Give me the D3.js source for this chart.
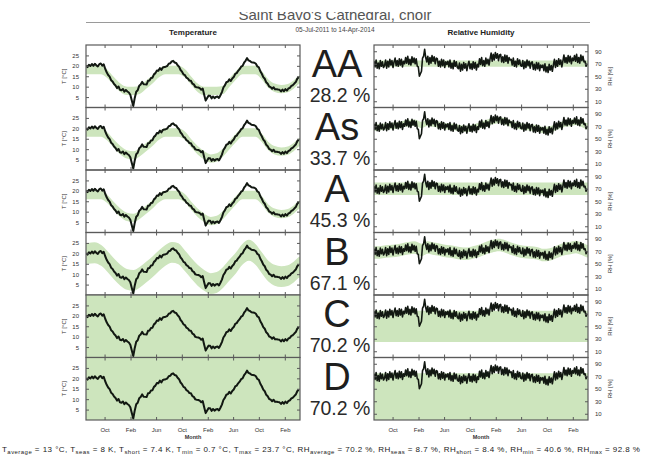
<!DOCTYPE html>
<html><head><meta charset="utf-8">
<script src="https://cdn.jsdelivr.net/npm/d3@7"></script>
<style>body{margin:0;background:#fff}svg{display:block}text{font-family:Arial,"Liberation Sans",sans-serif}</style>
</head><body><svg id="c" width="652" height="464"></svg>
<script>
// ---------- data ----------
const startDate = new Date(2011, 6, 5), endDate = new Date(2014, 3, 14);
const tempStepDays = 7;
const tempValues = [20.0,19.4,20.5,19.9,20.9,20.0,21.0,20.2,19.7,20.8,
 21.1,20.1,20.7,18.6,16.9,15.6,14.8,13.1,12.5,11.3,
 10.6,9.3,10.1,8.5,8.3,8.9,7.6,8.4,7.7,7.2,
 6.1,3.4,0.7,4.6,7.6,8.3,10.4,11.0,12.3,11.2,
 11.1,11.0,12.8,13.0,14.2,14.3,15.9,16.5,17.8,17.6,
 18.9,18.0,19.2,19.4,19.6,19.9,21.0,21.2,22.1,22.4,
 21.6,21.4,20.3,19.6,18.0,17.2,15.9,15.5,14.3,13.9,
 12.9,12.8,11.5,11.1,9.9,9.7,9.6,9.3,8.5,9.1,
 6.1,3.3,4.6,5.7,5.6,4.4,5.3,4.5,5.1,5.3,
 4.6,5.9,7.4,9.6,10.6,12.1,12.4,13.5,12.7,13.9,
 14.6,16.1,16.5,17.6,18.4,19.6,20.0,21.5,22.4,23.7,
 22.6,22.3,21.7,21.6,21.5,21.0,19.7,19.3,17.4,16.2,
 14.6,13.8,12.1,11.4,10.1,9.8,9.0,9.7,8.7,8.8,
 8.6,8.5,7.7,8.6,7.8,8.8,8.1,9.1,9.4,10.4,
 10.7,11.5,12.2,13.8,14.6];
const rhStepDays = 5;
const rhValues = [74,65,76,63,71,62,75,66,73,64,
 67,76,63,74,65,77,68,75,64,73,
 79,67,75,66,78,68,77,65,74,70,
 80,71,82,69,77,68,81,72,79,70,
 78,66,65,50,54,58,79,82,93,80,
 73,82,69,80,71,83,74,81,70,79,
 78,66,74,65,77,67,76,64,73,69,
 74,65,76,63,71,62,75,66,73,64,
 62,71,58,69,60,72,63,70,59,68,
 74,62,70,61,73,63,72,60,69,65,
 78,69,80,67,75,66,79,70,77,68,
 78,87,74,85,76,88,79,86,75,84,
 85,73,81,72,84,74,83,71,80,76,
 77,68,79,66,74,65,78,69,76,67,
 66,75,62,73,64,76,67,74,63,72,
 73,61,69,60,72,62,71,59,68,64,
 68,59,70,57,65,56,69,60,67,58,
 68,77,64,75,66,78,69,76,65,74,
 84,72,80,71,83,73,82,70,79,75,
 83,74,85,72,80,71,84,75,82,73,
 74,66,70];
// monthly (mid-month) seasonal running averages, Jul 2011 .. Apr 2014
const tempSeasonal = [20.0,20.3,19.0,16.0,12.5,9.5,7.5,7.0,8.5,11.0,13.5,16.5,
 19.0,20.5,19.8,16.5,12.8,9.5,7.0,5.5,6.0,8.5,12.0,15.5,
 19.5,21.5,19.5,15.5,11.5,9.5,8.8,9.3,11.0,13.5];
const rhSeasonal = [68,69,70,71,73,75,76,72,76,74,72,70,
 69,67,66,68,71,75,78,80,78,74,71,69,
 68,67,64,65,69,73,75,77,74,70];
const tempAverage = 13, rhAverage = 70.2;
const classNames  = ["AA","As","A","B","C","D"];
const classScores = ["28.2 %","33.7 %","45.3 %","67.1 %","70.2 %","70.2 %"];
const tempShort = [2,2,2,5,null,null];
const tempUp    = [5,5,5,10,null,null];
const tempDown  = [5,10,10,99,null,null];
const tempFixed = [null,null,null,null,[-50,30],[-50,30]];
const rhShort = [5,5,10,10,null,null];
const rhUp    = [0,10,0,10,null,null];
const rhDown  = [0,10,0,10,null,null];
const rhFixed = [null,null,null,null,[25,75],[-50,75]];
const monthTicks = [[2011,9],[2012,1],[2012,5],[2012,9],[2013,1],[2013,5],[2013,9],[2014,1]];
const monthTickLabels = ["Oct","Feb","Jun","Oct","Feb","Jun","Oct","Feb"];
const tempTicks = [5,10,15,20,25];
const rhTicks = [10,30,50,70,90];
const footerItems = [["T","average"," = 13 °C, "],["T","seas"," = 8 K, "],["T","short"," = 7.4 K, "],
 ["T","min"," = 0.7 °C, "],["T","max"," = 23.7 °C, "],["RH","average"," = 70.2 %, "],
 ["RH","seas"," = 8.7 %, "],["RH","short"," = 8.4 %, "],["RH","min"," = 40.6 %, "],["RH","max"," = 92.8 %"]];

// ---------- layout ----------
const svg = d3.select("#c");
const L = {x0:86, x1:300}, R = {x0:374, x1:588};
const top0 = 45, ph = 62.5, nP = 6;
const green = "#cde5bd", lineCol = "#121812", frame = "#5a5a5a";

const addDays = (d, n) => new Date(d.getTime() + n*86400000);
const tempData = tempValues.map((v,i)=>({d:addDays(startDate,i*tempStepDays), v}));
const rhData = rhValues.map((v,i)=>({d:addDays(startDate,i*rhStepDays), v}));
const seasDates = tempSeasonal.map((_,i)=>new Date(2011, 6+i, 15));
function withEdges(arr){
  const pts = arr.map((v,i)=>({d:seasDates[i], v}));
  return [{d:startDate, v:arr[0]}, ...pts, {d:endDate, v:arr[arr.length-1]}];
}
const tSeas = withEdges(tempSeasonal), rSeas = withEdges(rhSeasonal);

const defs = svg.append("defs");

function panel(k, side){
  const isT = side === "T";
  const P = isT ? L : R;
  const t = top0 + k*ph, b = t + ph;
  const x = d3.scaleTime().domain([startDate, endDate]).range([P.x0, P.x1]);
  const y = isT ? d3.scaleLinear().domain([0,30]).range([b,t])
                : d3.scaleLinear().domain([0,100]).range([b,t]);
  const id = "clip"+side+k;
  defs.append("clipPath").attr("id",id).append("rect")
    .attr("x",P.x0).attr("y",t).attr("width",P.x1-P.x0).attr("height",ph);
  const g = svg.append("g").attr("clip-path",`url(#${id})`);
  let band;
  const fixed = isT ? tempFixed[k] : rhFixed[k];
  if (fixed){
    band = [{d:startDate, lo:fixed[0], hi:fixed[1]},{d:endDate, lo:fixed[0], hi:fixed[1]}];
  } else {
    const seas = isT ? tSeas : rSeas, avg = isT ? tempAverage : rhAverage;
    const sh = isT ? tempShort[k] : rhShort[k], up = isT ? tempUp[k] : rhUp[k], dn = isT ? tempDown[k] : rhDown[k];
    band = seas.map(p=>{ let s = Math.max(avg-dn, Math.min(avg+up, p.v)); return {d:p.d, lo:s-sh, hi:s+sh}; });
  }
  g.append("path").datum(band)
    .attr("d", d3.area().x(p=>x(p.d)).y0(p=>y(p.lo)).y1(p=>y(p.hi)).curve(fixed ? d3.curveLinear : d3.curveMonotoneX))
    .attr("fill", green);
  g.append("path").datum(isT ? tempData : rhData)
    .attr("d", d3.line().x(p=>x(p.d)).y(p=>y(p.v)))
    .attr("fill","none").attr("stroke",lineCol)
    .attr("stroke-width", isT ? 2 : 1.6).attr("stroke-linejoin","round");
  const tickDates = monthTicks.map(m=>new Date(m[0], m[1], 1));
  const ax = svg.append("g").attr("class","ax");
  ax.append("g").attr("transform",`translate(0,${t})`)
    .call(d3.axisTop(x).tickValues(tickDates).tickSize(-3).tickFormat(""));
  ax.append("g").attr("transform",`translate(0,${b})`)
    .call(d3.axisBottom(x).tickValues(tickDates).tickSize(-3).tickPadding(8)
      .tickFormat((d,i)=> k===nP-1 ? monthTickLabels[i] : ""));
  const yt = isT ? tempTicks : rhTicks;
  ax.append("g").attr("transform",`translate(${P.x0},0)`)
    .call(d3.axisLeft(y).tickValues(yt).tickSize(-3).tickPadding(7).tickFormat(isT ? d3.format("d") : ""));
  ax.append("g").attr("transform",`translate(${P.x1},0)`)
    .call(d3.axisRight(y).tickValues(yt).tickSize(-3).tickPadding(7).tickFormat(isT ? "" : d3.format("d")));
  ax.selectAll(".domain").remove();
  ax.selectAll(".tick line").attr("stroke",frame);
  ax.selectAll("text").attr("font-size",6).attr("fill","#333").attr("font-family","Arial");
  svg.append("rect").attr("x",P.x0).attr("y",t).attr("width",P.x1-P.x0).attr("height",ph)
    .attr("fill","none").attr("stroke",frame).attr("stroke-width",1.2);
  const ly = (t+b)/2;
  if (isT){
    svg.append("text").attr("transform",`translate(66,${ly}) rotate(-90)`).attr("text-anchor","middle")
      .attr("font-size",6).attr("fill","#333").text("T [°C]");
  } else {
    svg.append("text").attr("transform",`translate(612,${ly}) rotate(-90)`).attr("text-anchor","middle")
      .attr("font-size",6).attr("fill","#333").text("RH [%]");
  }
}
for (let k=0;k<nP;k++){ panel(k,"T"); panel(k,"R"); }

classNames.forEach((c,k)=>{
  const t = top0 + k*ph;
  svg.append("text").attr("x",337).attr("y",t+32).attr("text-anchor","middle")
    .attr("font-size",38).attr("fill","#1e1e1e").text(c);
  svg.append("text").attr("x",340).attr("y",t+57).attr("text-anchor","middle")
    .attr("font-size",19.5).attr("fill","#2a2a2a").text(classScores[k]);
});

defs.append("clipPath").attr("id","tclip").append("rect").attr("x",0).attr("y",12).attr("width",652).attr("height",20);
svg.append("text").attr("clip-path","url(#tclip)").attr("x",335).attr("y",20).attr("text-anchor","middle")
  .attr("font-size",15).attr("fill","#555").text("Saint Bavo's Cathedral, choir");
svg.append("line").attr("x1",86).attr("x2",590).attr("y1",22.5).attr("y2",22.5).attr("stroke","#9a9a9a").attr("stroke-width",1);
svg.append("text").attr("x",193).attr("y",35).attr("text-anchor","middle").attr("font-size",8).attr("font-weight","bold").attr("fill","#222").text("Temperature");
svg.append("text").attr("x",481).attr("y",35).attr("text-anchor","middle").attr("font-size",8).attr("font-weight","bold").attr("fill","#222").text("Relative Humidity");
svg.append("text").attr("x",335).attr("y",32).attr("text-anchor","middle").attr("font-size",6.5).attr("fill","#444").text("05-Jul-2011 to 14-Apr-2014");
svg.append("text").attr("x",193).attr("y",439).attr("text-anchor","middle").attr("font-size",5.5).attr("font-weight","bold").attr("fill","#333").text("Month");
svg.append("text").attr("x",481).attr("y",439).attr("text-anchor","middle").attr("font-size",5.5).attr("font-weight","bold").attr("fill","#333").text("Month");

const ft = svg.append("text").attr("x",2).attr("y",452).attr("font-size",8).attr("letter-spacing",0.45).attr("fill","#222");
footerItems.forEach(it=>{
  ft.append("tspan").text(it[0]);
  ft.append("tspan").attr("dy",2).attr("font-size",6).text(it[1]);
  ft.append("tspan").attr("dy",-2).text(it[2]);
});
</script></body></html>
